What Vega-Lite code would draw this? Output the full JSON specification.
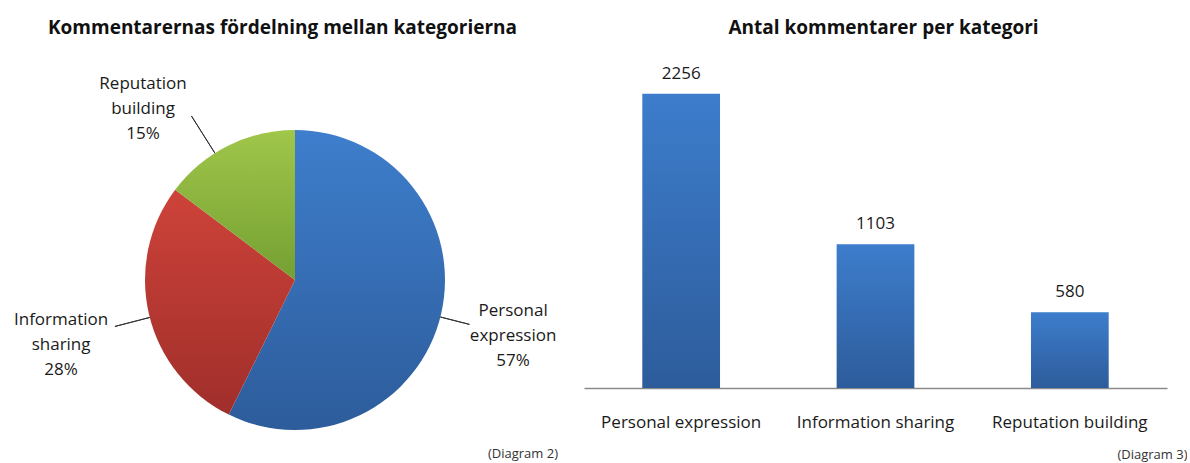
{
  "$schema": "https://vega.github.io/schema/vega-lite/v6.json",
  "padding": {"left": 13, "top": 19, "right": 0, "bottom": 0},
  "autosize": {"type": "pad"},
  "spacing": 9,
  "background": "white",
  "config": {
    "view": {"stroke": null},
    "font": "Open Sans",
    "text": {"font": "Open Sans", "color": "#1a1a1a"}
  },
  "datasets": {
    "comments": [
      {"category": "Personal expression", "count": 2256, "pielabel": "Personal\nexpression\n57%"},
      {"category": "Information sharing", "count": 1103, "pielabel": "Information\nsharing\n28%"},
      {"category": "Reputation building", "count": 580, "pielabel": "Reputation\nbuilding\n15%"}
    ]
  },
  "hconcat": [
    {
      "title": {"text": "Kommentarernas fördelning mellan kategorierna", "font": "Open Sans", "fontSize": 19, "fontWeight": "bold", "color": "#111111", "offset": 24, "anchor": "middle", "dx": -12},
      "vconcat": [
        {
          "width": 560,
          "height": 436,
          "title": {"text": "(Diagram 2)", "orient": "bottom", "anchor": "end", "fontSize": 13, "fontWeight": "normal", "color": "#333333", "offset": -50, "dx": -17, "font": "Open Sans"},
          "data": {"name": "comments"},
          "layer": [
            {
              "mark": {"type": "arc", "outerRadius": 150},
              "encoding": {
                "theta": {"field": "count", "type": "quantitative", "stack": true},
                "order": {"field": "count", "type": "quantitative", "sort": "descending"},
                "fill": {
                  "condition": [
                    {"test": "datum.category === 'Personal expression'", "value": {"gradient": "linear", "x1": 0, "y1": 0, "x2": 0, "y2": 1, "stops": [{"offset": 0, "color": "#3E7ECC"}, {"offset": 1, "color": "#2D5C9B"}]}},
                    {"test": "datum.category === 'Information sharing'", "value": {"gradient": "linear", "x1": 0, "y1": 0, "x2": 0, "y2": 1, "stops": [{"offset": 0, "color": "#CD4339"}, {"offset": 1, "color": "#A02E2B"}]}}
                  ],
                  "value": {"gradient": "linear", "x1": 0, "y1": 0, "x2": 0, "y2": 1, "stops": [{"offset": 0, "color": "#A0C64A"}, {"offset": 1, "color": "#74A032"}]}
                }
              }
            },
            {
              "transform": [{"filter": "datum.category === 'Personal expression'"}],
              "mark": {"type": "arc", "fill": null, "stroke": "#333333", "strokeWidth": 1},
              "encoding": {"theta": {"value": 1.82}, "theta2": {"value": 1.82}, "radius": {"value": 150}, "radius2": {"value": 180}}
            },
            {
              "transform": [{"filter": "datum.category === 'Information sharing'"}],
              "mark": {"type": "arc", "fill": null, "stroke": "#333333", "strokeWidth": 1},
              "encoding": {"theta": {"value": 4.46}, "theta2": {"value": 4.46}, "radius": {"value": 150}, "radius2": {"value": 186}}
            },
            {
              "transform": [{"filter": "datum.category === 'Reputation building'"}],
              "mark": {"type": "arc", "fill": null, "stroke": "#333333", "strokeWidth": 1},
              "encoding": {"theta": {"value": 5.72}, "theta2": {"value": 5.72}, "radius": {"value": 150}, "radius2": {"value": 194}}
            },
            {
              "mark": {"type": "text", "radius": 150, "fontSize": 17, "lineBreak": "\n", "lineHeight": 25, "align": "center", "baseline": "middle", "dx": 72, "dy": -3},
              "encoding": {
                "theta": {"field": "count", "type": "quantitative", "stack": true},
                "order": {"field": "count", "type": "quantitative", "sort": "descending"},
                "detail": {"field": "category"},
                "text": {"condition": {"test": "datum.category === 'Personal expression'", "field": "pielabel"}, "value": ""}
              }
            },
            {
              "mark": {"type": "text", "radius": 150, "fontSize": 17, "lineBreak": "\n", "lineHeight": 25, "align": "center", "baseline": "middle", "dx": -88, "dy": 5},
              "encoding": {
                "theta": {"field": "count", "type": "quantitative", "stack": true},
                "order": {"field": "count", "type": "quantitative", "sort": "descending"},
                "detail": {"field": "category"},
                "text": {"condition": {"test": "datum.category === 'Information sharing'", "field": "pielabel"}, "value": ""}
              }
            },
            {
              "mark": {"type": "text", "radius": 150, "fontSize": 17, "lineBreak": "\n", "lineHeight": 25, "align": "center", "baseline": "middle", "dx": -85, "dy": -62},
              "encoding": {
                "theta": {"field": "count", "type": "quantitative", "stack": true},
                "order": {"field": "count", "type": "quantitative", "sort": "descending"},
                "detail": {"field": "category"},
                "text": {"condition": {"test": "datum.category === 'Reputation building'", "field": "pielabel"}, "value": ""}
              }
            }
          ]
        }
      ]
    },
    {
      "width": 583,
      "height": 326,
      "title": {"text": "Antal kommentarer per kategori", "font": "Open Sans", "fontSize": 19, "fontWeight": "bold", "color": "#111111", "offset": 24, "anchor": "middle", "dx": 8},
      "data": {"name": "comments"},
      "encoding": {
        "x": {
          "field": "category", "type": "nominal", "sort": null,
          "scale": {"paddingInner": 0.6, "paddingOuter": 0.3},
          "axis": {
            "labelAngle": 0, "labelFontSize": 17, "labelColor": "#1a1a1a", "labelFont": "Open Sans", "labelPadding": 26,
            "ticks": false, "domainColor": "#8a8a8a", "domainWidth": 1.5,
            "title": "(Diagram 3)", "titleFontSize": 13, "titleFontWeight": "normal", "titleColor": "#333333", "titleFont": "Open Sans",
            "titleAlign": "right", "titleBaseline": "top", "titleX": 603, "titleY": 60
          }
        },
        "y": {"field": "count", "type": "quantitative", "scale": {"domain": [0, 2500]}, "axis": null}
      },
      "layer": [
        {
          "mark": {"type": "bar", "fill": {"gradient": "linear", "x1": 0, "y1": 0, "x2": 0, "y2": 1, "stops": [{"offset": 0, "color": "#3D7DCC"}, {"offset": 1, "color": "#2D5C9B"}]}}
        },
        {
          "mark": {"type": "text", "baseline": "bottom", "dy": -11, "fontSize": 17},
          "encoding": {"text": {"field": "count", "type": "quantitative", "format": "d"}}
        }
      ]
    }
  ]
}
